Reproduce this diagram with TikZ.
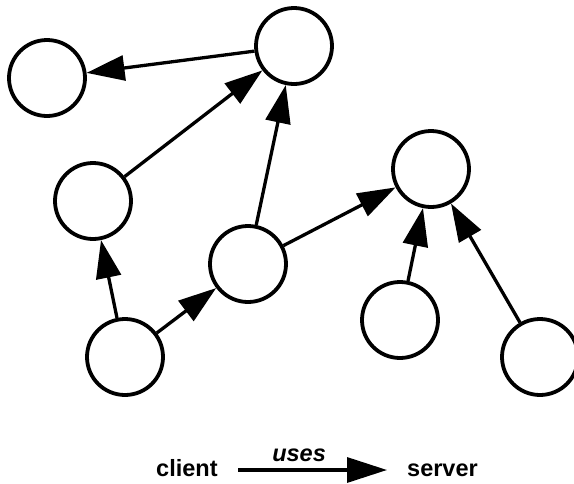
\documentclass[tikz,border=0pt]{standalone}
\usepackage{fontspec}
\setmainfont{Liberation Sans}
\usetikzlibrary{arrows.meta}
\begin{document}
\begin{tikzpicture}[x=1pt,y=-1pt,
  peer/.style={circle,draw,line width=3.8pt,minimum size=76pt,inner sep=0pt},
  uses/.style={line width=3.3pt,-{Triangle[length=38pt,width=25pt]}},
  lbl/.style={font=\fontsize{23.5}{27}\selectfont\bfseries,inner sep=0pt,anchor=base west}]
\useasboundingbox (0,0) rectangle (574,483);
\clip (0,0) rectangle (574,483);
\node[peer] (A) at (47,78) {};
\node[peer] (B) at (294,46) {};
\node[peer] (C) at (93,201) {};
\node[peer] (D) at (248,264) {};
\node[peer] (E) at (431,169) {};
\node[peer] (F) at (125,357) {};
\node[peer] (G) at (400,320) {};
\node[peer] (H) at (540,357) {};
\draw[uses] (B) -- (A);
\draw[uses] (C) -- (B);
\draw[uses] (D) -- (B);
\draw[uses] (F) -- (C);
\draw[uses] (F) -- (D);
\draw[uses] (D) -- (E);
\draw[uses] (G) -- (E);
\draw[uses] (H) -- (E);
% legend
\node[lbl] (client) at (156,476) {client};
\node[lbl] (server) at (407,476) {server};
\coordinate (ls) at (238,470);
\coordinate (le) at (387,470);
\draw[line width=3.3pt,-{Triangle[length=40pt,width=25pt]}] (ls) -- (le)
  node[pos=0.41,above=7pt,font=\fontsize{23.5}{27}\selectfont\bfseries\itshape,inner sep=0pt] (u) {uses};
\end{tikzpicture}
\end{document}
